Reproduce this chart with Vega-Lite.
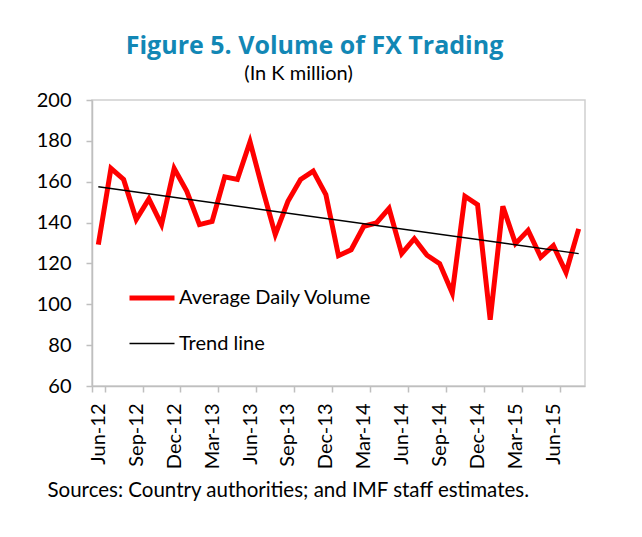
{
  "$schema": "https://vega.github.io/schema/vega-lite/v6.json",
  "autosize": "none",
  "width": 493,
  "height": 286,
  "padding": {"left": 92, "top": 100, "right": 57, "bottom": 151},
  "background": "white",
  "config": {
    "font": "Lato",
    "view": {"stroke": "#CFCFCF", "strokeWidth": 1.5}
  },
  "title": {
    "text": "Figure 5. Volume of FX Trading",
    "anchor": "middle",
    "frame": "group",
    "dx": -24,
    "offset": 4,
    "font": "Open Sans",
    "fontSize": 25,
    "fontWeight": "bold",
    "color": "#1287B5"
  },
  "data": {
    "values": [
      {"month": "Jun-12", "value": 129.2, "series": "Average Daily Volume"},
      {"month": "Jul-12", "value": 166.5, "series": "Average Daily Volume"},
      {"month": "Aug-12", "value": 161.1, "series": "Average Daily Volume"},
      {"month": "Sep-12", "value": 141.5, "series": "Average Daily Volume"},
      {"month": "Oct-12", "value": 151.6, "series": "Average Daily Volume"},
      {"month": "Nov-12", "value": 139.0, "series": "Average Daily Volume"},
      {"month": "Dec-12", "value": 166.5, "series": "Average Daily Volume"},
      {"month": "Jan-13", "value": 155.3, "series": "Average Daily Volume"},
      {"month": "Feb-13", "value": 139.0, "series": "Average Daily Volume"},
      {"month": "Mar-13", "value": 140.6, "series": "Average Daily Volume"},
      {"month": "Apr-13", "value": 162.4, "series": "Average Daily Volume"},
      {"month": "May-13", "value": 161.1, "series": "Average Daily Volume"},
      {"month": "Jun-13", "value": 179.6, "series": "Average Daily Volume"},
      {"month": "Jul-13", "value": 156.2, "series": "Average Daily Volume"},
      {"month": "Aug-13", "value": 134.1, "series": "Average Daily Volume"},
      {"month": "Sep-13", "value": 150.4, "series": "Average Daily Volume"},
      {"month": "Oct-13", "value": 161.1, "series": "Average Daily Volume"},
      {"month": "Nov-13", "value": 165.2, "series": "Average Daily Volume"},
      {"month": "Dec-13", "value": 153.7, "series": "Average Daily Volume"},
      {"month": "Jan-14", "value": 123.8, "series": "Average Daily Volume"},
      {"month": "Feb-14", "value": 126.7, "series": "Average Daily Volume"},
      {"month": "Mar-14", "value": 138.2, "series": "Average Daily Volume"},
      {"month": "Apr-14", "value": 139.8, "series": "Average Daily Volume"},
      {"month": "May-14", "value": 146.9, "series": "Average Daily Volume"},
      {"month": "Jun-14", "value": 124.8, "series": "Average Daily Volume"},
      {"month": "Jul-14", "value": 132.1, "series": "Average Daily Volume"},
      {"month": "Aug-14", "value": 124.0, "series": "Average Daily Volume"},
      {"month": "Sep-14", "value": 119.9, "series": "Average Daily Volume"},
      {"month": "Oct-14", "value": 105.5, "series": "Average Daily Volume"},
      {"month": "Nov-14", "value": 152.9, "series": "Average Daily Volume"},
      {"month": "Dec-14", "value": 148.8, "series": "Average Daily Volume"},
      {"month": "Jan-15", "value": 92.4, "series": "Average Daily Volume"},
      {"month": "Feb-15", "value": 148.0, "series": "Average Daily Volume"},
      {"month": "Mar-15", "value": 129.7, "series": "Average Daily Volume"},
      {"month": "Apr-15", "value": 136.2, "series": "Average Daily Volume"},
      {"month": "May-15", "value": 123.1, "series": "Average Daily Volume"},
      {"month": "Jun-15", "value": 128.7, "series": "Average Daily Volume"},
      {"month": "Jul-15", "value": 115.6, "series": "Average Daily Volume"},
      {"month": "Aug-15", "value": 136.9, "series": "Average Daily Volume"},
      {"month": "Jun-12", "value": 157.5, "series": "Trend line"},
      {"month": "Aug-15", "value": 124.8, "series": "Trend line"}
    ]
  },
  "mark": {"type": "line", "strokeJoin": "miter", "strokeCap": "butt"},
  "encoding": {
    "x": {
      "field": "month",
      "type": "ordinal",
      "sort": null,
      "scale": {"type": "band", "paddingInner": 0, "paddingOuter": 0},
      "axis": {
        "values": ["Jun-12", "Sep-12", "Dec-12", "Mar-13", "Jun-13", "Sep-13", "Dec-13", "Mar-14", "Jun-14", "Sep-14", "Dec-14", "Mar-15", "Jun-15"],
        "tickBand": "extent",
        "labelAngle": -90,
        "labelAlign": "right",
        "labelBaseline": "middle",
        "labelFontSize": 20,
        "labelColor": "#000000",
        "labelPadding": 11,
        "tickSize": 6,
        "tickColor": "#BFBFBF",
        "domainColor": "#BFBFBF",
        "domainWidth": 1.5,
        "tickWidth": 1.5,
        "title": "Sources: Country authorities; and IMF staff estimates.",
        "titleFontSize": 20.5,
        "titleFontWeight": "normal",
        "titleColor": "#000000",
        "titleAlign": "left",
        "titleAnchor": "start",
        "titleBaseline": "alphabetic",
        "titleX": -45,
        "titleY": 110
      }
    },
    "y": {
      "field": "value",
      "type": "quantitative",
      "scale": {"domain": [60, 200], "nice": false, "zero": false},
      "axis": {
        "values": [60, 80, 100, 120, 140, 160, 180, 200],
        "grid": false,
        "labelFontSize": 20,
        "labelColor": "#000000",
        "labelPadding": 15,
        "tickSize": 6,
        "tickColor": "#BFBFBF",
        "tickWidth": 1.5,
        "domainColor": "#BFBFBF",
        "domainWidth": 1.5,
        "title": "(In K million)",
        "titleAngle": 0,
        "titleAlign": "center",
        "titleBaseline": "alphabetic",
        "titleFontSize": 20,
        "titleFontWeight": "normal",
        "titleColor": "#000000",
        "titleX": 206,
        "titleY": -21
      }
    },
    "color": {
      "field": "series",
      "type": "nominal",
      "scale": {"domain": ["Average Daily Volume", "Trend line"], "range": ["#FF0000", "#000000"]},
      "legend": {
        "title": null,
        "orient": "none",
        "legendX": 35,
        "legendY": 173,
        "padding": 0,
        "symbolType": "stroke",
        "symbolSize": 2025,
        "labelFontSize": 20,
        "labelColor": "#000000",
        "labelOffset": 2,
        "labelLimit": 0,
        "rowPadding": 12
      }
    },
    "strokeWidth": {
      "field": "series",
      "type": "nominal",
      "scale": {"domain": ["Average Daily Volume", "Trend line"], "range": [5, 1.5]},
      "legend": {
        "title": null,
        "orient": "none",
        "legendX": 35,
        "legendY": 173,
        "padding": 0,
        "symbolType": "stroke",
        "symbolSize": 2025,
        "labelFontSize": 20,
        "labelColor": "#000000",
        "labelOffset": 2,
        "labelLimit": 0,
        "rowPadding": 12
      }
    }
  }
}
